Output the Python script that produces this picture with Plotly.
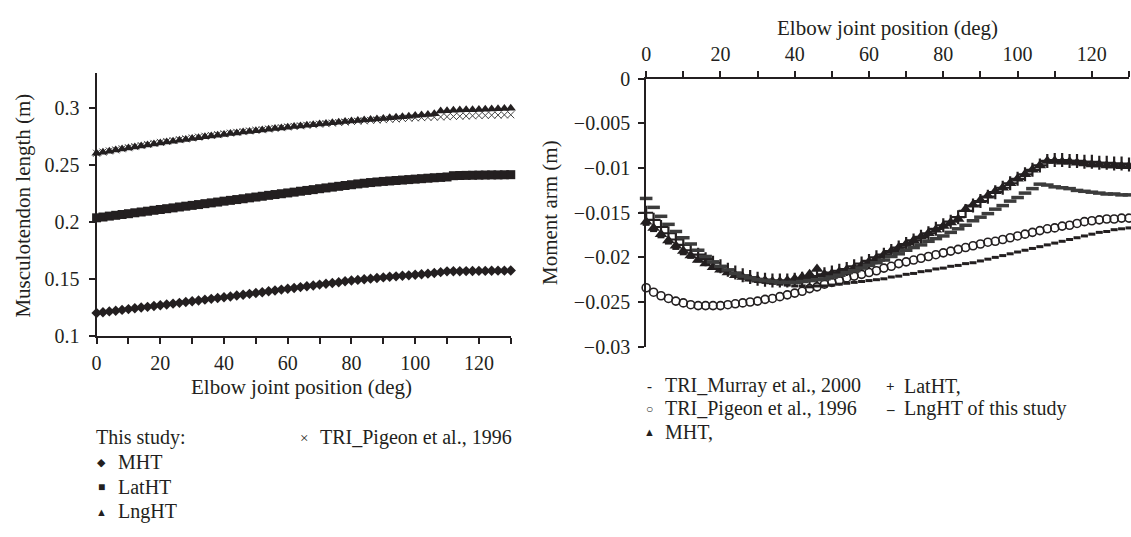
import plotly.graph_objects as go

# ---------------- data ----------------
angle = [0, 2, 4, 6, 8, 10, 12, 14, 16, 18, 20, 22, 24, 26, 28, 30, 32, 34, 36, 38,
         40, 42, 44, 46, 48, 50, 52, 54, 56, 58, 60, 62, 64, 66, 68, 70, 72, 74, 76, 78,
         80, 82, 84, 86, 88, 90, 92, 94, 96, 98, 100, 102, 104, 106, 108, 110, 112, 114,
         116, 118, 120, 122, 124, 126, 128, 130]

# Left panel: musculotendon length (m)
len_mht = [0.1200, 0.1207, 0.1214, 0.1220, 0.1227, 0.1234, 0.1241, 0.1248, 0.1254, 0.1261,
           0.1268, 0.1275, 0.1282, 0.1289, 0.1296, 0.1303, 0.1310, 0.1317, 0.1324, 0.1331,
           0.1338, 0.1345, 0.1353, 0.1360, 0.1368, 0.1375, 0.1382, 0.1390, 0.1397, 0.1405,
           0.1412, 0.1419, 0.1427, 0.1434, 0.1441, 0.1449, 0.1456, 0.1463, 0.1470, 0.1478,
           0.1485, 0.1490, 0.1496, 0.1501, 0.1507, 0.1512, 0.1517, 0.1521, 0.1526, 0.1530,
           0.1535, 0.1540, 0.1545, 0.1550, 0.1558, 0.1565, 0.1566, 0.1566, 0.1567, 0.1568,
           0.1569, 0.1569, 0.1570, 0.1571, 0.1571, 0.1572]
len_lat = [0.2034, 0.2041, 0.2049, 0.2056, 0.2063, 0.2070, 0.2078, 0.2085, 0.2092, 0.2100,
           0.2107, 0.2114, 0.2121, 0.2129, 0.2136, 0.2143, 0.2150, 0.2158, 0.2165, 0.2172,
           0.2180, 0.2187, 0.2194, 0.2201, 0.2209, 0.2216, 0.2223, 0.2231, 0.2238, 0.2245,
           0.2252, 0.2259, 0.2267, 0.2274, 0.2281, 0.2289, 0.2296, 0.2303, 0.2310, 0.2317,
           0.2324, 0.2331, 0.2337, 0.2343, 0.2348, 0.2353, 0.2357, 0.2361, 0.2365, 0.2369,
           0.2373, 0.2377, 0.2381, 0.2385, 0.2388, 0.2392, 0.2403, 0.2405, 0.2406, 0.2407,
           0.2408, 0.2409, 0.2410, 0.2410, 0.2411, 0.2412]
len_lng = [0.2600, 0.2609, 0.2618, 0.2628, 0.2637, 0.2646, 0.2655, 0.2664, 0.2672, 0.2681,
           0.2690, 0.2698, 0.2706, 0.2714, 0.2721, 0.2729, 0.2736, 0.2744, 0.2751, 0.2758,
           0.2765, 0.2772, 0.2778, 0.2785, 0.2791, 0.2797, 0.2804, 0.2810, 0.2816, 0.2822,
           0.2828, 0.2834, 0.2839, 0.2845, 0.2850, 0.2856, 0.2861, 0.2866, 0.2872, 0.2877,
           0.2882, 0.2887, 0.2891, 0.2896, 0.2900, 0.2905, 0.2910, 0.2915, 0.2920, 0.2925,
           0.2930, 0.2935, 0.2940, 0.2945, 0.2970, 0.2973, 0.2976, 0.2978, 0.2980, 0.2982,
           0.2984, 0.2986, 0.2988, 0.2990, 0.2992, 0.2994]
len_pigeon = [0.2600, 0.2610, 0.2620, 0.2629, 0.2639, 0.2648, 0.2658, 0.2667, 0.2677, 0.2686,
              0.2695, 0.2703, 0.2711, 0.2719, 0.2726, 0.2734, 0.2741, 0.2749, 0.2756, 0.2763,
              0.2770, 0.2776, 0.2783, 0.2789, 0.2795, 0.2801, 0.2806, 0.2812, 0.2818, 0.2824,
              0.2830, 0.2835, 0.2840, 0.2845, 0.2850, 0.2855, 0.2859, 0.2864, 0.2869, 0.2873,
              0.2878, 0.2881, 0.2884, 0.2888, 0.2891, 0.2894, 0.2897, 0.2900, 0.2904, 0.2907,
              0.2910, 0.2912, 0.2914, 0.2916, 0.2918, 0.2920, 0.2922, 0.2924, 0.2926, 0.2928,
              0.2930, 0.2931, 0.2933, 0.2934, 0.2936, 0.2937]

# Right panel: moment arm (m)
arm_murray = [-0.0163, -0.0170, -0.0177, -0.0184, -0.0190, -0.0196, -0.0200, -0.0204, -0.0208, -0.0212,
              -0.0215, -0.0218, -0.0221, -0.0223, -0.0225, -0.0227, -0.0228, -0.0229, -0.0230, -0.0231,
              -0.0232, -0.0232, -0.0233, -0.0232, -0.0232, -0.0231, -0.0230, -0.0229, -0.0228, -0.0227,
              -0.0226, -0.0225, -0.0224, -0.0222, -0.0221, -0.0219, -0.0218, -0.0216, -0.0215, -0.0213,
              -0.0212, -0.0210, -0.0209, -0.0207, -0.0206, -0.0204, -0.0202, -0.0200, -0.0198, -0.0196,
              -0.0194, -0.0192, -0.0190, -0.0188, -0.0186, -0.0184, -0.0182, -0.0180, -0.0178, -0.0176,
              -0.0174, -0.0172, -0.0171, -0.0169, -0.0168, -0.0167]
arm_pigeon = [-0.0234, -0.0239, -0.0243, -0.0246, -0.0249, -0.0251, -0.0253, -0.0254, -0.0254, -0.0254,
              -0.0254, -0.0253, -0.0252, -0.0251, -0.0250, -0.0249, -0.0247, -0.0246, -0.0244, -0.0242,
              -0.0240, -0.0238, -0.0235, -0.0233, -0.0230, -0.0228, -0.0226, -0.0223, -0.0221, -0.0219,
              -0.0217, -0.0215, -0.0212, -0.0210, -0.0207, -0.0205, -0.0203, -0.0201, -0.0199, -0.0197,
              -0.0195, -0.0193, -0.0191, -0.0189, -0.0187, -0.0185, -0.0183, -0.0182, -0.0180, -0.0178,
              -0.0176, -0.0174, -0.0172, -0.0170, -0.0168, -0.0167, -0.0165, -0.0164, -0.0162, -0.0160,
              -0.0159, -0.0158, -0.0157, -0.0157, -0.0156, -0.0156]
arm_mht = [-0.0160, -0.0167, -0.0174, -0.0181, -0.0187, -0.0193, -0.0198, -0.0203, -0.0207, -0.0211,
           -0.0214, -0.0217, -0.0220, -0.0222, -0.0224, -0.0225, -0.0226, -0.0227, -0.0227, -0.0226,
           -0.0224, -0.0222, -0.0219, -0.0213, -0.0219, -0.0218, -0.0216, -0.0214, -0.0212, -0.0209,
           -0.0205, -0.0201, -0.0197, -0.0193, -0.0189, -0.0185, -0.0181, -0.0177, -0.0173, -0.0169,
           -0.0165, -0.0161, -0.0157, -0.0146, -0.0141, -0.0136, -0.0131, -0.0126, -0.0122, -0.0117,
           -0.0112, -0.0107, -0.0102, -0.0097, -0.0092, -0.0092, -0.0093, -0.0093, -0.0094, -0.0095,
           -0.0096, -0.0096, -0.0097, -0.0097, -0.0098, -0.0098]
arm_lat = [-0.0150, -0.0158, -0.0166, -0.0173, -0.0180, -0.0186, -0.0192, -0.0197, -0.0202, -0.0206,
           -0.0210, -0.0214, -0.0217, -0.0220, -0.0222, -0.0224, -0.0225, -0.0226, -0.0226, -0.0226,
           -0.0225, -0.0224, -0.0223, -0.0221, -0.0219, -0.0217, -0.0215, -0.0213, -0.0210, -0.0207,
           -0.0204, -0.0200, -0.0197, -0.0193, -0.0189, -0.0185, -0.0181, -0.0177, -0.0173, -0.0168,
           -0.0164, -0.0160, -0.0155, -0.0148, -0.0142, -0.0137, -0.0132, -0.0127, -0.0122, -0.0117,
           -0.0112, -0.0107, -0.0102, -0.0097, -0.0092, -0.0091, -0.0091, -0.0092, -0.0092, -0.0093,
           -0.0093, -0.0094, -0.0094, -0.0095, -0.0095, -0.0096]
arm_lng = [-0.0134, -0.0144, -0.0154, -0.0163, -0.0171, -0.0178, -0.0185, -0.0192, -0.0199, -0.0205,
           -0.0210, -0.0214, -0.0218, -0.0221, -0.0223, -0.0225, -0.0226, -0.0227, -0.0228, -0.0228,
           -0.0228, -0.0227, -0.0226, -0.0225, -0.0224, -0.0222, -0.0220, -0.0217, -0.0215, -0.0212,
           -0.0209, -0.0206, -0.0203, -0.0199, -0.0196, -0.0192, -0.0189, -0.0186, -0.0182, -0.0179,
           -0.0176, -0.0172, -0.0168, -0.0164, -0.0159, -0.0155, -0.0151, -0.0146, -0.0142, -0.0137,
           -0.0133, -0.0128, -0.0123, -0.0118, -0.0119, -0.0121, -0.0122, -0.0123, -0.0125, -0.0126,
           -0.0127, -0.0128, -0.0129, -0.0129, -0.0130, -0.0130]

left_ytick_vals = [0.1, 0.15, 0.2, 0.25, 0.3]
left_ytick_text = ["0.1", "0.15", "0.2", "0.25", "0.3"]
right_ytick_vals = [0, -0.005, -0.01, -0.015, -0.02, -0.025, -0.03]
right_ytick_text = ["0", "\u22120.005", "\u22120.01", "\u22120.015", "\u22120.02", "\u22120.025", "\u22120.03"]
x_tick_vals = [0, 20, 40, 60, 80, 100, 120]

# ---------------- figure ----------------
W, H = 1131, 537
FONT = "Liberation Serif"
FS = 21
LFS = 20
TFS = 20
BLACK = "#231f20"

def px(x):
    return x / W

def py(y):
    return 1 - y / H

fig = go.Figure()

# left panel
fig.add_trace(go.Scatter(x=angle, y=len_mht, mode="markers", xaxis="x", yaxis="y",
                         marker=dict(symbol="diamond", size=8, color=BLACK), cliponaxis=False))
fig.add_trace(go.Scatter(x=angle, y=len_lat, mode="markers", xaxis="x", yaxis="y",
                         marker=dict(symbol="square", size=9, color=BLACK), cliponaxis=False))
fig.add_trace(go.Scatter(x=angle, y=len_pigeon, mode="markers", xaxis="x", yaxis="y",
                         marker=dict(symbol="x-thin", size=7, color=BLACK,
                                     line=dict(width=1, color="#444444")), cliponaxis=False))
fig.add_trace(go.Scatter(x=angle, y=len_lng, mode="markers", xaxis="x", yaxis="y",
                         marker=dict(symbol="triangle-up", size=9, color=BLACK), cliponaxis=False))

# right panel
fig.add_trace(go.Scatter(x=angle, y=arm_murray, mode="markers", xaxis="x2", yaxis="y2",
                         marker=dict(symbol="line-ew", size=5, color=BLACK,
                                     line=dict(width=3, color=BLACK)), cliponaxis=False))
fig.add_trace(go.Scatter(x=angle, y=arm_pigeon, mode="markers", xaxis="x2", yaxis="y2",
                         marker=dict(symbol="circle-open", size=8, color=BLACK,
                                     line=dict(width=1.6, color=BLACK)), cliponaxis=False))
fig.add_trace(go.Scatter(x=angle, y=arm_mht, mode="markers", xaxis="x2", yaxis="y2",
                         marker=dict(symbol="triangle-up", size=11, color=BLACK), cliponaxis=False))
fig.add_trace(go.Scatter(x=angle, y=arm_lat, mode="markers", xaxis="x2", yaxis="y2",
                         marker=dict(symbol="cross-thin", size=10, color=BLACK,
                                     line=dict(width=2.2, color=BLACK)), cliponaxis=False))
fig.add_trace(go.Scatter(x=angle, y=arm_lng, mode="markers", xaxis="x2", yaxis="y2",
                         marker=dict(symbol="line-ew", size=9, color="#3c3c3c",
                                     line=dict(width=3.5, color="#3c3c3c")), cliponaxis=False))

axis_common = dict(showgrid=False, zeroline=False, showline=True, linecolor=BLACK, linewidth=2,
                   ticks="outside", ticklen=6, tickwidth=1.5, tickcolor=BLACK,
                   tickfont=dict(family=FONT, size=TFS, color=BLACK))
minor_ticks = dict(dtick=10, ticks="outside", ticklen=6, tickwidth=1.5, tickcolor=BLACK)

fig.update_layout(
    width=W, height=H, margin=dict(l=0, r=0, t=0, b=0),
    paper_bgcolor="white", plot_bgcolor="white", showlegend=False,
    xaxis=dict(axis_common, domain=[px(92), px(508)], range=[0, 130], anchor="y",
               tickvals=x_tick_vals, minor=minor_ticks, ticklabelstandoff=2),
    yaxis=dict(axis_common, domain=[py(338.7), py(65)], range=[0.1, 0.33], anchor="x",
               tickvals=left_ytick_vals, ticktext=left_ytick_text, ticklabelstandoff=5),
    xaxis2=dict(axis_common, domain=[px(644), px(1129)], range=[0, 130], anchor="y2",
                side="top", tickvals=x_tick_vals, minor=minor_ticks, ticklabelstandoff=2),
    yaxis2=dict(axis_common, domain=[py(350), py(70.7)], range=[-0.03, 0], anchor="x2",
                tickvals=right_ytick_vals, ticktext=right_ytick_text, ticklabelstandoff=4),
)

ann = []

def text(x, y, s, xanchor="center", size=FS, angle=0):
    ann.append(dict(x=px(x), y=py(y), xref="paper", yref="paper", text=s, showarrow=False,
                    xanchor=xanchor, yanchor="middle", textangle=angle, borderpad=0,
                    font=dict(family=FONT, size=size, color=BLACK)))

# axis titles
text(18, 203, "Musculotendon length (m)", angle=-90)
text(298, 392, "Elbow joint position (deg)")
text(548, 210, "Moment arm (m)", angle=-90)
text(886, 18, "Elbow joint position (deg)")

# left legend
text(90, 445, "This study:", xanchor="left", size=LFS)
text(97, 470, "\u25c6", size=11)
text(112, 470, "MHT", xanchor="left", size=LFS)
text(97, 496, "\u25a0", size=12)
text(112, 496, "LatHT", xanchor="left", size=LFS)
text(97, 522, "\u25b2", size=11)
text(112, 522, "LngHT", xanchor="left", size=LFS)
text(300, 445, "\u00d7", size=15)
text(315, 445, "TRI_Pigeon et al., 1996", xanchor="left", size=LFS)

# right legend
text(647, 391, "<b>-</b>", size=15)
text(662, 391, "TRI_Murray et al., 2000", xanchor="left", size=LFS)
text(647, 415, "\u25cb", size=12)
text(662, 415, "TRI_Pigeon et al., 1996", xanchor="left", size=LFS)
text(647, 439, "\u25b2", size=11)
text(662, 439, "MHT,", xanchor="left", size=LFS)
text(889, 391, "<b>+</b>", size=15)
text(902, 391, "LatHT,", xanchor="left", size=LFS)
text(889, 415, "<b>\u2013</b>", size=15)
text(902, 415, "LngHT of this study", xanchor="left", size=LFS)

fig.update_layout(annotations=ann)

fig.write_html("out.html")
